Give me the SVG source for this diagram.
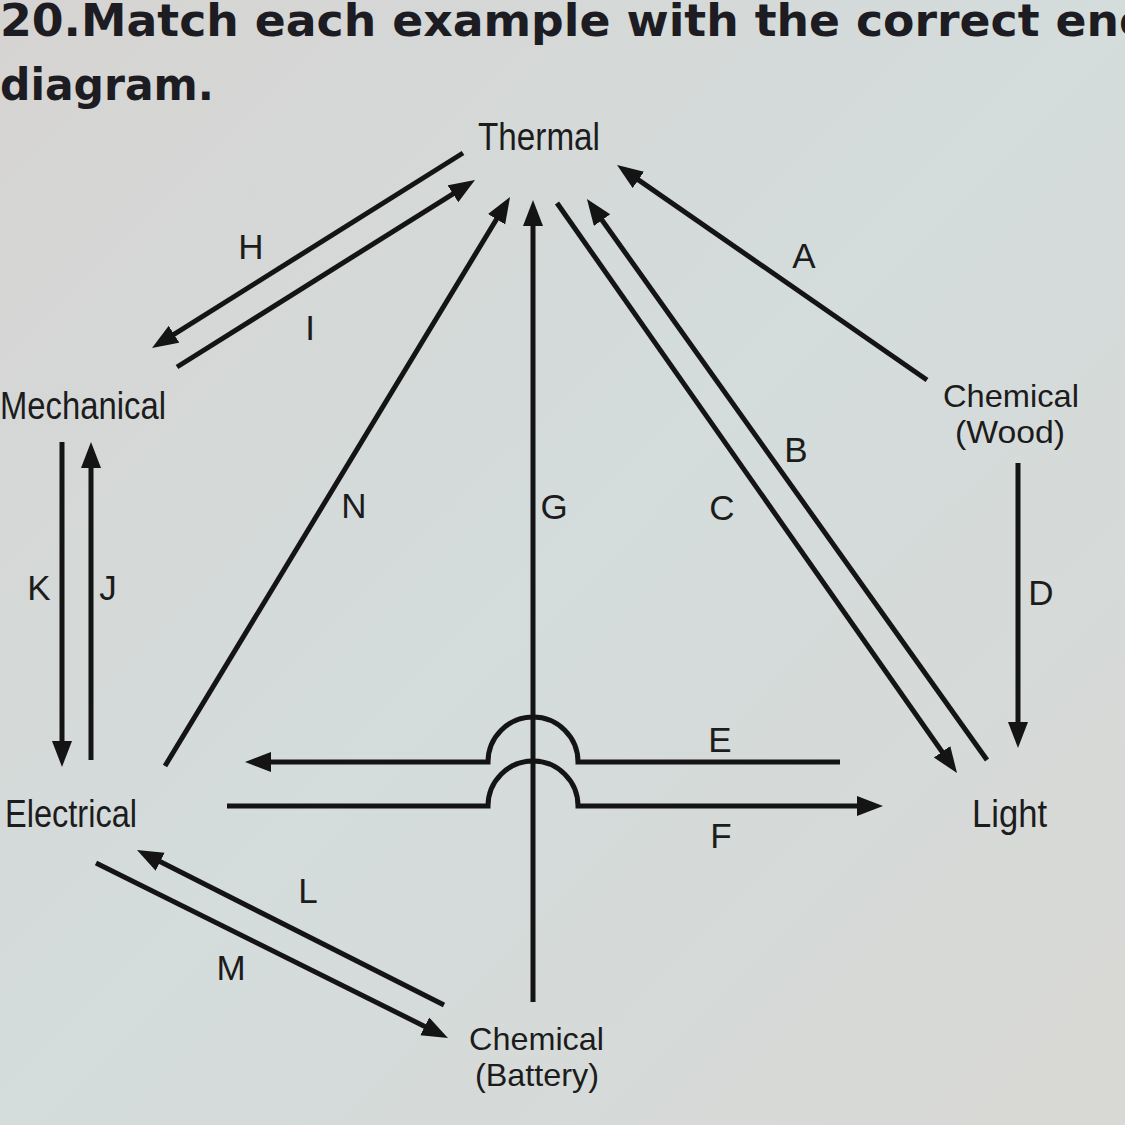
<svg xmlns="http://www.w3.org/2000/svg" width="1125" height="1125" viewBox="0 0 1125 1125">
<defs>
<linearGradient id="bg" x1="0" y1="0" x2="1" y2="1">
<stop offset="0" stop-color="#d6d4d2"/>
<stop offset="0.5" stop-color="#d4dcdc"/>
<stop offset="1" stop-color="#d8d8d4"/>
</linearGradient>
<marker id="ah" markerUnits="userSpaceOnUse" markerWidth="30" markerHeight="24" refX="18" refY="10" orient="auto">
<path d="M0,0 L26,10 L0,20 Z" fill="#141414"/>
</marker>
<style>
.title{font-family:"DejaVu Sans",sans-serif;font-weight:bold;font-size:45px;fill:#1c1c22}
.node{font-family:"Liberation Sans",Arial,sans-serif;font-size:38px;fill:#1c1c1c}
.node2{font-family:"Liberation Sans",Arial,sans-serif;font-size:32px;fill:#1c1c1c}
.lbl{font-family:"Liberation Sans",Arial,sans-serif;font-size:35px;fill:#1c1c1c;text-anchor:middle}
.ln{stroke:#141414;stroke-width:5;fill:none}
.ar{marker-end:url(#ah)}
</style>
</defs>
<rect width="1125" height="1125" fill="url(#bg)"/>
<g id="title">
<text class="title" x="0" y="36" textLength="1150" lengthAdjust="spacingAndGlyphs">20.Match each example with the correct ene</text>
<text class="title" x="0" y="100" textLength="214" lengthAdjust="spacingAndGlyphs">diagram.</text>
</g>
<g id="node-thermal"><text class="node" x="478" y="150" textLength="122" lengthAdjust="spacingAndGlyphs">Thermal</text></g>
<g id="node-mechanical"><text class="node" x="0" y="419" textLength="166" lengthAdjust="spacingAndGlyphs">Mechanical</text></g>
<g id="node-electrical"><text class="node" x="5" y="827" textLength="132" lengthAdjust="spacingAndGlyphs">Electrical</text></g>
<g id="node-light"><text class="node" x="972" y="827" textLength="75" lengthAdjust="spacingAndGlyphs">Light</text></g>
<g id="node-chem-wood">
<text class="node2" x="943" y="407" textLength="136" lengthAdjust="spacingAndGlyphs">Chemical</text>
<text class="node2" x="955" y="443" textLength="110" lengthAdjust="spacingAndGlyphs">(Wood)</text>
</g>
<g id="node-chem-battery">
<text class="node2" x="469" y="1050" textLength="135" lengthAdjust="spacingAndGlyphs">Chemical</text>
<text class="node2" x="475" y="1086" textLength="124" lengthAdjust="spacingAndGlyphs">(Battery)</text>
</g>
<g id="connectors">
<line class="ln ar" x1="463" y1="153" x2="158.8" y2="343.8"/>
<line class="ln ar" x1="177" y1="367" x2="468.2" y2="184.3"/>
<line class="ln ar" x1="165" y1="766" x2="505.9" y2="203.8"/>
<line class="ln ar" x1="533" y1="1002" x2="533" y2="208"/>
<line class="ln ar" x1="557" y1="203" x2="952.4" y2="766.5"/>
<line class="ln ar" x1="987" y1="760" x2="591.6" y2="205.5"/>
<line class="ln ar" x1="927" y1="380" x2="623.6" y2="169.6"/>
<line class="ln ar" x1="1018" y1="463" x2="1018" y2="740"/>
<line class="ln ar" x1="62" y1="442" x2="62" y2="759"/>
<line class="ln ar" x1="91" y1="760" x2="91" y2="450"/>
<path class="ln ar" d="M840,762 H578 A45 45 0 0 0 488,762 H253"/>
<path class="ln ar" d="M227,806 H488 A45 45 0 0 1 578,806 H875"/>
<line class="ln ar" x1="96" y1="863" x2="440.8" y2="1034.4"/>
<line class="ln ar" x1="444" y1="1005" x2="144.1" y2="853.6"/>
</g>
<g id="labels">
<text class="lbl" x="251" y="259">H</text>
<text class="lbl" x="310" y="340">I</text>
<text class="lbl" x="804" y="268">A</text>
<text class="lbl" x="796" y="462">B</text>
<text class="lbl" x="354" y="518">N</text>
<text class="lbl" x="554" y="519">G</text>
<text class="lbl" x="722" y="520">C</text>
<text class="lbl" x="39" y="600">K</text>
<text class="lbl" x="108" y="600">J</text>
<text class="lbl" x="1041" y="605">D</text>
<text class="lbl" x="720" y="752">E</text>
<text class="lbl" x="721" y="848">F</text>
<text class="lbl" x="308" y="903">L</text>
<text class="lbl" x="231" y="980">M</text>
</g>
</svg>
